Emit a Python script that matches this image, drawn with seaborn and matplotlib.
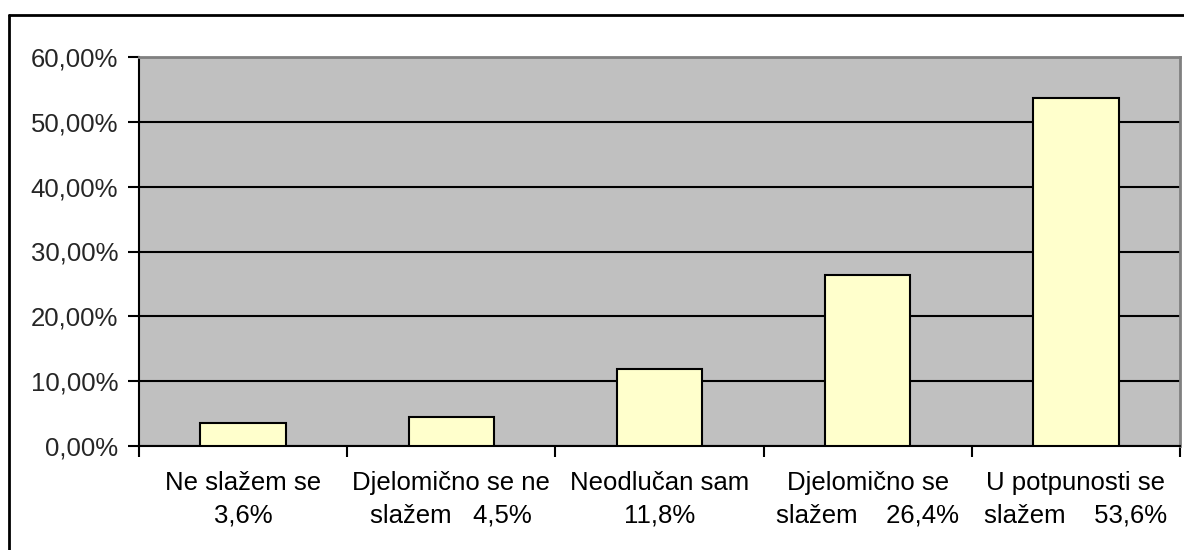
import matplotlib
matplotlib.use("Agg")
import matplotlib.pyplot as plt
import seaborn as sns
import pandas as pd
import numpy as np
from matplotlib.lines import Line2D
from matplotlib.ticker import FuncFormatter, MultipleLocator, FixedLocator

categories = ["Ne slažem se", "Djelomično se ne slažem", "Neodlučan sam",
              "Djelomično se slažem", "U potpunosti se slažem"]
values = [3.6, 4.5, 11.8, 26.4, 53.6]
tick_labels = ["Ne slažem se\n3,6%", "Djelomično se ne\nslažem   4,5%",
               "Neodlučan sam\n11,8%", "Djelomično se\nslažem    26,4%",
               "U potpunosti se\nslažem    53,6%"]

sns.set_theme(style="white")
plt.rcParams['font.family'] = ['Liberation Sans', 'DejaVu Sans']

fig = plt.figure(figsize=(11.84, 5.5), dpi=100)
ax = fig.add_axes([139/1184, 1 - 446/550, (1180 - 139)/1184, (446 - 57)/550])
ax.set_facecolor("#C0C0C0")

df = pd.DataFrame({"cat": categories, "val": values})
sns.barplot(data=df, x="cat", y="val", color="#FFFFCC", width=0.41,
            edgecolor="black", linewidth=1.5, saturation=1, ax=ax, zorder=3)

ax.set_ylim(0, 60)
ax.set_xlim(-0.5, 4.5)
ax.yaxis.set_major_locator(MultipleLocator(10))
ax.yaxis.set_major_formatter(FuncFormatter(lambda v, p: f"{v:.2f}".replace(".", ",") + "%"))
ax.grid(axis="y", color="black", linewidth=1.5, zorder=1)
ax.set_axisbelow(True)

ax.set_xticks(range(len(categories)))
ax.set_xticklabels(tick_labels, linespacing=1.45)
ax.xaxis.set_minor_locator(FixedLocator(np.arange(-0.5, 5, 1)))
ax.tick_params(axis="x", which="major", length=0, pad=18, labelsize=18.5, colors="black")
ax.tick_params(axis="x", which="minor", length=8, width=1.5, direction="out", color="black", bottom=True)
ax.tick_params(axis="y", which="major", length=8, width=1.5, direction="out", color="black",
               labelsize=18.5, pad=7, left=True)
ax.set_xlabel("")
ax.set_ylabel("")

for s in ["left", "bottom"]:
    ax.spines[s].set_color("black")
    ax.spines[s].set_linewidth(1.5)
for s in ["top", "right"]:
    ax.spines[s].set_color("#808080")
    ax.spines[s].set_linewidth(2)
    ax.spines[s].set_visible(True)

# figure border (left and top visible)
fig.add_artist(Line2D([8.5/1184, 8.5/1184], [0, 1 - 15/550], color="black", linewidth=2, transform=fig.transFigure))
fig.add_artist(Line2D([8.5/1184, 1], [1 - 15/550, 1 - 15/550], color="black", linewidth=2, transform=fig.transFigure))

fig.savefig("out.png", dpi=100)
